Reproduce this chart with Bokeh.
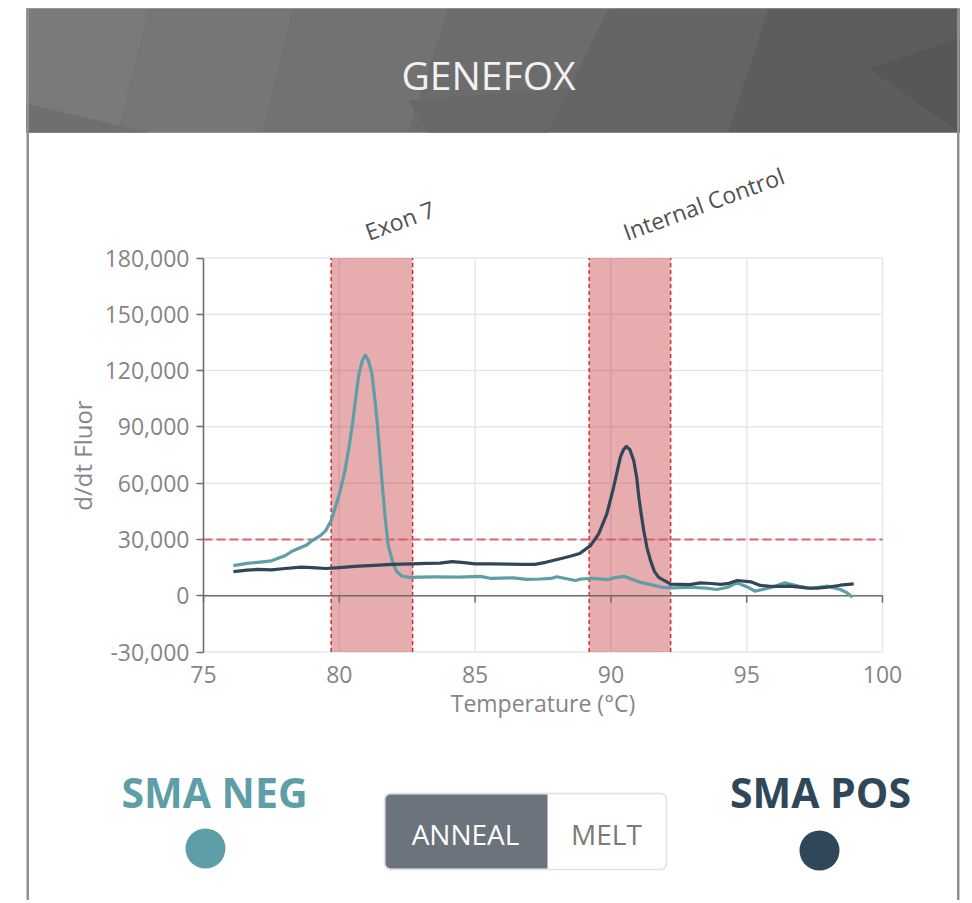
from bokeh.plotting import figure
from bokeh.models import (Range1d, FixedTicker, NumeralTickFormatter, LinearAxis, BoxAnnotation)
from bokeh.core.properties import value
from bokeh.embed import file_html
from bokeh.resources import INLINE

# ---------------- data ----------------
neg_temp = [76.1, 76.6, 77.0, 77.5, 78.0, 78.3, 78.8, 79.0, 79.3, 79.5, 79.7, 80.0, 80.2,
            80.35, 80.5, 80.6, 80.72, 80.85, 80.96, 81.07, 81.2, 81.3, 81.4, 81.5, 81.6,
            81.7, 81.8, 81.95, 82.1, 82.3, 82.55,
            83.0, 83.5, 84.4, 85.2, 85.6, 86.4, 86.9, 87.4, 87.8, 88.0, 88.7, 88.9, 89.3,
            89.9, 90.1, 90.5, 91.1, 91.5, 91.9, 92.3, 92.9, 93.5, 93.9, 94.3, 94.65, 95.0,
            95.3, 95.75, 96.0, 96.4, 96.9, 97.35, 97.96, 98.45, 98.7, 98.9]
neg_fluor = [16000, 17200, 17800, 18600, 21300, 24000, 27000, 29400, 32000, 34700, 40000,
             54000, 66000, 78500, 93000, 105000, 118000, 125500, 128200, 125500, 118400,
             106000, 91700, 74000, 56100, 40000, 27000, 18700, 13000, 10500, 9800,
             9900, 10000, 9900, 10300, 9200, 9500, 8700, 8900,
             9200, 10100, 8100, 8900, 9200, 8540, 9500, 10300, 7100, 5800, 4450, 4200, 4500,
             4000, 3300, 4500, 6850, 4800, 2400, 3850, 4800, 6850, 5100, 3850, 5100, 3300,
             1500, -800]

pos_temp = [76.1, 76.6, 77.0, 77.5, 78.0, 78.6, 79.0, 79.5, 80.0, 80.7, 81.3, 81.95, 82.7,
            83.2, 83.7, 84.15, 84.6, 85.0, 85.6, 86.2, 86.8, 87.2, 87.6, 88.1, 88.5, 88.85,
            89.25, 89.55, 89.85, 90.1, 90.35, 90.45, 90.57, 90.7, 90.84, 90.95, 91.03, 91.12,
            91.21, 91.33, 91.46, 91.6, 91.76, 92.2, 92.9, 93.3, 93.7, 94.05, 94.35, 94.65,
            95.15, 95.5, 95.8, 96.2, 96.6, 97.2, 97.6, 97.96, 98.45, 98.94]
pos_fluor = [12800, 13600, 14000, 13800, 14500, 15200, 15000, 14500, 15000, 15800, 16200,
             16700, 17000, 17200, 17400, 18200, 17600, 17000, 17000, 16800, 16700, 16700,
             17800, 19600, 21000, 22500, 26700, 33000, 43600, 57800, 73900, 77500, 79600,
             77800, 72100, 63000, 52500, 43000, 34700, 25500, 18700, 13000, 9800, 6200, 5900,
             6850, 6500, 6000, 6600, 8100, 7400, 5500, 5100, 5000, 5100, 4200, 4000, 4500,
             5600, 6300]

band_names = ["Exon 7", "Internal Control"]
band_lo = [79.7, 89.2]
band_hi = [82.7, 92.2]
threshold = 30000

x_ticks = [75, 80, 85, 90, 95, 100]
y_ticks = [-30000, 0, 30000, 60000, 90000, 120000, 150000, 180000]
x_min, x_max = 75, 100
y_min, y_max = -30000, 180000

series_names = ["SMA NEG", "SMA POS"]
series_colors = ["#5e9ea6", "#30475a"]

# ---------------- layout (pixels) ----------------
FONT = "Open Sans"
W, H = 966, 900
CH_L, CH_R, CH_T, CH_B = 203, 882, 257.5, 651.5   # chart area in the canvas

tx = (x_max - x_min) / (CH_R - CH_L)
fy = (y_max - y_min) / (CH_B - CH_T)

p = figure(width=W, height=H, output_backend="svg", toolbar_location=None,
           x_axis_type=None, y_axis_type=None,
           x_range=Range1d(0, W), y_range=Range1d(H, 0),
           min_border=0, min_border_left=0, min_border_right=0,
           min_border_top=0, min_border_bottom=0)
p.outline_line_color = None
p.background_fill_color = "white"
p.border_fill_color = "white"
p.grid.visible = False
p.extra_x_ranges = {"T": Range1d(x_min - CH_L * tx, x_max + (W - CH_R) * tx)}
p.extra_y_ranges = {"F": Range1d(y_min - (H - CH_B) * fy, y_max + CH_T * fy)}
C = dict(x_range_name="T", y_range_name="F")

# ---------------- chart ----------------
GRID = "#e3e7f0"
p.segment(x0=x_ticks, x1=x_ticks, y0=[y_min] * len(x_ticks), y1=[y_max] * len(x_ticks),
          line_color=GRID, line_width=1.5, **C)
p.segment(x0=[x_min] * len(y_ticks), x1=[x_max] * len(y_ticks), y0=y_ticks, y1=y_ticks,
          line_color=GRID, line_width=1.5, **C)

p.quad(left=band_lo, right=band_hi, bottom=[y_min] * 2, top=[y_max] * 2,
       fill_color="#c0262b", fill_alpha=0.38, line_color=None, **C)
edges = band_lo + band_hi
p.segment(x0=edges, x1=edges, y0=[y_min] * len(edges), y1=[y_max] * len(edges),
          line_color="#cf2f33", line_width=1.5, line_dash="4 3", **C)

p.segment(x0=[x_min], x1=[x_max], y0=[0], y1=[0], line_color="#6e6e6e", line_width=1.5, **C)
tick_len = 7 * fy
p.segment(x0=x_ticks, x1=x_ticks, y0=[0] * len(x_ticks), y1=[-tick_len] * len(x_ticks),
          line_color="#6e6e6e", line_width=1.5, **C)
p.segment(x0=[x_min], x1=[x_max], y0=[threshold], y1=[threshold], line_color="#d9595b",
          line_width=2, line_dash="9 4", line_alpha=0.9, **C)

p.line(neg_temp, neg_fluor, line_color=series_colors[0], line_width=3.2,
       line_join="round", **C)
p.line(pos_temp, pos_fluor, line_color=series_colors[1], line_width=3.2,
       line_join="round", **C)

# axes
LBL = "#858585"
ya = LinearAxis(x_range_name="T", y_range_name="F", fixed_location=x_min,
                bounds=(y_min, y_max), ticker=FixedTicker(ticks=y_ticks),
                formatter=NumeralTickFormatter(format="0,0"))
ya.axis_line_color = "#6e6e6e"
ya.axis_line_width = 1.5
ya.major_tick_line_color = "#6e6e6e"
ya.major_tick_line_width = 1.5
ya.major_tick_out = 7
ya.major_tick_in = 0
ya.minor_tick_line_color = None
ya.major_label_standoff = 7
ya.major_label_text_font = FONT
ya.major_label_text_font_size = "23px"
ya.major_label_text_color = LBL
ya.axis_label = "d/dt Fluor"
ya.axis_label_text_font = FONT
ya.axis_label_text_font_size = "24px"
ya.axis_label_text_font_style = "normal"
ya.axis_label_text_color = LBL
ya.axis_label_standoff = 3
p.add_layout(ya, "left")

xa = LinearAxis(x_range_name="T", y_range_name="F", fixed_location=y_min,
                bounds=(x_min, x_max), ticker=FixedTicker(ticks=x_ticks))
xa.axis_line_color = None
xa.major_tick_line_color = None
xa.minor_tick_line_color = None
xa.major_tick_out = 0
xa.major_tick_in = 0
xa.major_label_standoff = 14
xa.major_label_text_font = FONT
xa.major_label_text_font_size = "23px"
xa.major_label_text_color = LBL
xa.axis_label = "Temperature (°C)"
xa.axis_label_text_font = FONT
xa.axis_label_text_font_size = "23px"
xa.axis_label_text_font_style = "normal"
xa.axis_label_text_color = LBL
xa.axis_label_standoff = 0
p.add_layout(xa, "below")

# band labels
band_mid = [(lo + hi) / 2 for lo, hi in zip(band_lo, band_hi)]
p.text(x=band_mid, y=[232, 232], text=band_names, angle=20, angle_units="deg",
       x_offset=-6, text_font=value(FONT), text_font_size="23px", text_color="#505050",
       text_align="left", text_baseline="middle", x_range_name="T")

# ---------------- card decoration (pixel coordinates) ----------------
HL, HR, HT, HB = 26, 959, 8, 132
p.quad(left=[HL], right=[HR], top=[HT], bottom=[HB], fill_color="#666666", line_color=None)
facets = [
    ([26, 148, 118, 26], [8, 8, 132, 132], "#7a7a7a"),
    ([148, 293, 263, 118], [8, 8, 132, 132], "#767676"),
    ([293, 448, 408, 263], [8, 8, 132, 132], "#727272"),
    ([448, 608, 548, 408], [8, 8, 132, 132], "#6c6c6c"),
    ([608, 768, 728, 548], [8, 8, 132, 132], "#656565"),
    ([768, 959, 959, 728], [8, 8, 132, 132], "#5d5d5d"),
    ([26, 148, 26], [103, 132, 132], "#6f6f6f"),
    ([408, 568, 548, 428], [100, 88, 132, 132], "#686868"),
    ([868, 959, 959], [68, 38, 132], "#575757"),
]
p.patches(xs=[f[0] for f in facets], ys=[f[1] for f in facets],
          fill_color=[f[2] for f in facets], line_color=None)
p.text(x=[488], y=[74], text=["GENEFOX"], text_font=value(FONT), text_font_size="39px",
       text_color="#f2f2f2", text_align="center", text_baseline="middle")

# card side borders
p.quad(left=[26, 956.5], right=[28.5, 959], top=[8, 8], bottom=[H, H],
       fill_color="#8f8f8f", line_color=None)

# legend
p.text(x=[214, 820], y=[791, 791], text=series_names, text_font=value(FONT),
       text_font_size="41px", text_font_style="bold", text_color=series_colors,
       text_align="center", text_baseline="middle")
p.scatter(x=[205, 819], y=[848, 850], size=40, marker="circle", fill_color=series_colors,
          line_color=None)

# toggle
tog = BoxAnnotation(left=384, right=666, top=793, bottom=869, fill_color="white",
                    fill_alpha=1, line_color="#9a9a9a", line_width=1.5, border_radius=6,
                    level="glyph")
p.add_layout(tog)
tog2 = BoxAnnotation(left=385, right=547, top=794, bottom=868, fill_color="#6b737d",
                     fill_alpha=1, line_color=None, border_radius=(5, 0, 0, 5), level="glyph")
p.add_layout(tog2)
p.text(x=[465, 606], y=[833, 833], text=["ANNEAL", "MELT"], text_font=value(FONT),
       text_font_size="28px", text_color=["white", "#7a7a7a"], text_align="center",
       text_baseline="middle", level="overlay")

open("out.html", "w").write(file_html(p, INLINE))
